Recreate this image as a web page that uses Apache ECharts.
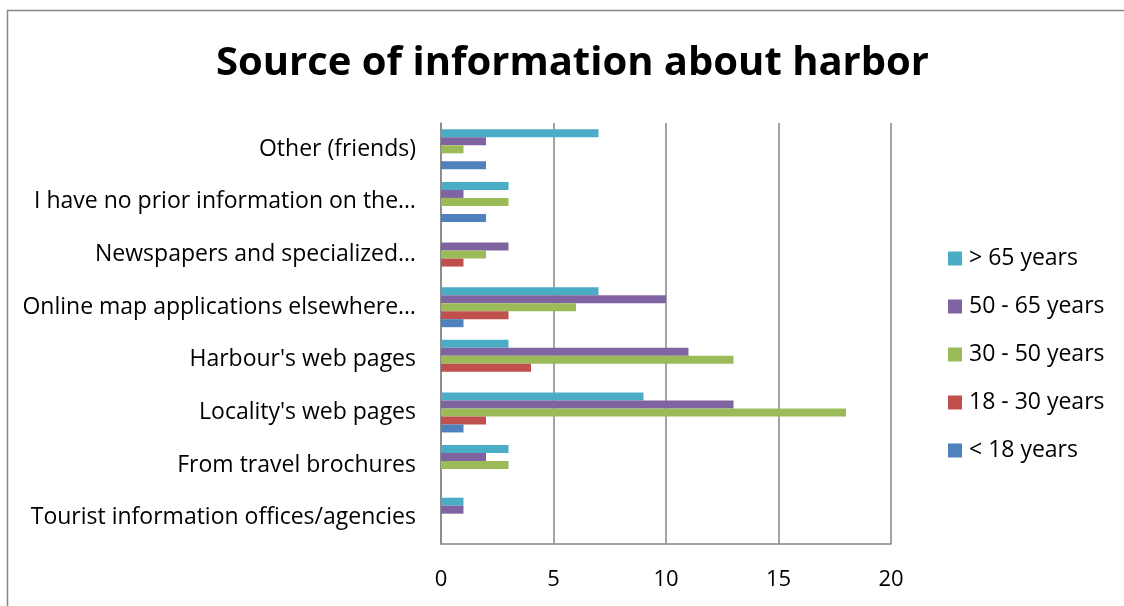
<!DOCTYPE html>
<html>
<head>
<meta charset="utf-8">
<title>Source of information about harbor</title>
<script src="https://cdn.jsdelivr.net/npm/echarts@6/dist/echarts.min.js"></script>
<style>
  html, body { margin: 0; padding: 0; background: #fff; }
  #chart { width: 1124px; height: 606px; }
</style>
</head>
<body>
<div id="chart"></div>
<script>
// Categories listed bottom to top along the vertical axis
const categories = [
  'Tourist information offices/agencies',
  'From travel brochures',
  "Locality's web pages",
  "Harbour's web pages",
  'Online map applications elsewhere…',
  'Newspapers and specialized…',
  'I have no prior information on the…',
  'Other (friends)'
];

// Respondent counts per age group, same order as categories
const under18   = [0, 0, 1, 0, 1, 0, 2, 2];
const age18to30 = [0, 0, 2, 4, 3, 1, 0, 0];
const age30to50 = [0, 3, 18, 13, 6, 2, 3, 1];
const age50to65 = [1, 2, 13, 11, 10, 3, 1, 2];
const over65    = [1, 3, 9, 3, 7, 0, 3, 7];

const xTicks = [0, 5, 10, 15, 20];

const FONT = 'Open Sans';
const chart = echarts.init(document.getElementById('chart'), null, { renderer: 'canvas' });

// Oldest group first so it sits on top within each category band
const seriesDefs = [
  { name: '> 65 years',    data: over65,    color: '#4BACC6' },
  { name: '50 - 65 years', data: age50to65, color: '#8064A2' },
  { name: '30 - 50 years', data: age30to50, color: '#9BBB59' },
  { name: '18 - 30 years', data: age18to30, color: '#C0504D' },
  { name: '< 18 years',    data: under18,   color: '#4F81BD' }
];

chart.setOption({
  animation: false,
  backgroundColor: '#fff',
  title: {
    text: 'Source of information about harbor',
    left: 211,
    top: 39,
    textStyle: { fontFamily: FONT, fontWeight: 'bold', fontSize: 40, color: '#000' }
  },
  graphic: [{
    type: 'rect',
    shape: { x: 7.5, y: 10.5, width: 1130, height: 620 },
    style: { fill: 'none', stroke: '#868686', lineWidth: 1.5 },
    silent: true
  }],
  legend: {
    orient: 'vertical',
    left: 943,
    top: 242,
    itemWidth: 14,
    itemHeight: 14,
    itemGap: 25,
    icon: 'rect',
    data: seriesDefs.map(s => s.name),
    textStyle: { fontFamily: FONT, fontSize: 23, color: '#000', padding: [0, 0, 0, 2] }
  },
  grid: { left: 441, top: 123, width: 450, height: 421, containLabel: false },
  xAxis: {
    type: 'value',
    min: xTicks[0],
    max: xTicks[xTicks.length - 1],
    interval: 5,
    axisLine: { show: true, lineStyle: { color: '#868686', width: 1.5 } },
    axisTick: { show: false },
    splitLine: { show: true, lineStyle: { color: '#868686', width: 1.5 } },
    axisLabel: { fontFamily: FONT, fontSize: 22, color: '#000', margin: 25 }
  },
  yAxis: {
    type: 'category',
    data: categories,
    axisLine: { show: true, lineStyle: { color: '#868686', width: 1.5 } },
    axisTick: { show: false },
    axisLabel: { fontFamily: FONT, fontSize: 23, color: '#000', margin: 25 }
  },
  series: seriesDefs.map(s => ({
    name: s.name,
    type: 'bar',
    data: s.data,
    barWidth: 8,
    barGap: '0%',
    itemStyle: { color: s.color }
  }))
});
</script>
</body>
</html>
